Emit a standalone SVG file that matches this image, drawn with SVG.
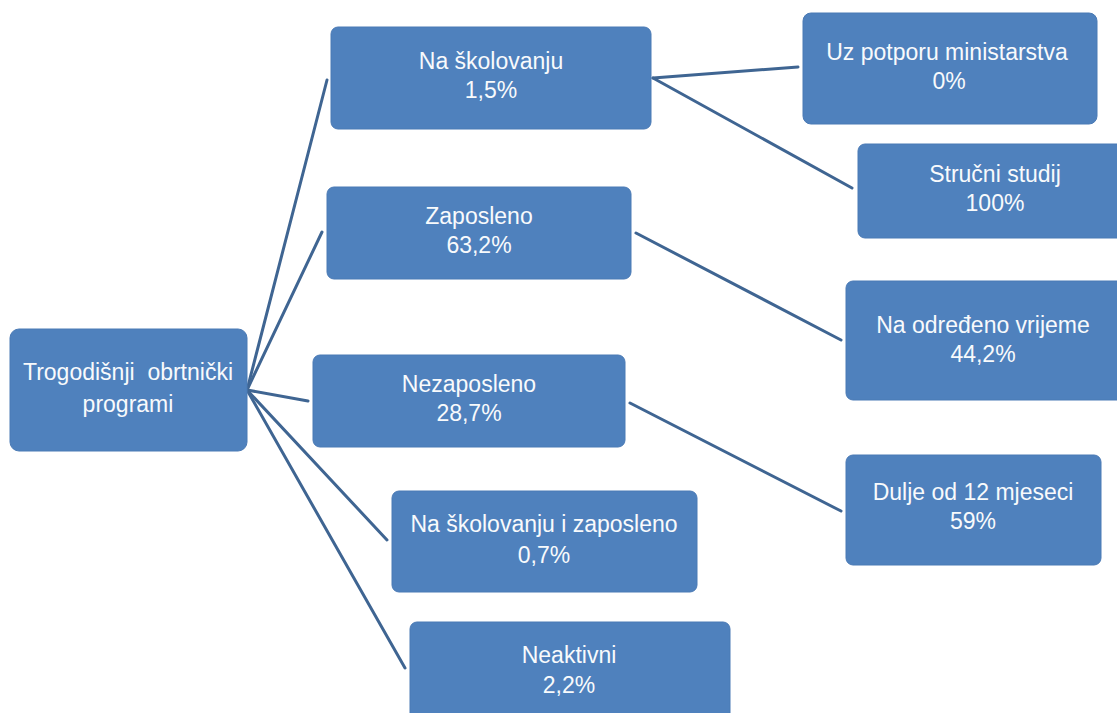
<svg xmlns="http://www.w3.org/2000/svg" width="1117" height="713" viewBox="0 0 1117 713">
<style>
.n{fill:#4f81bd;stroke:#4a7ab5;stroke-width:1}
.t{fill:#f8fafc;font-family:"Liberation Sans",Arial,sans-serif;font-size:23px;text-anchor:middle;white-space:pre}
.c{stroke:#3f6592;stroke-width:3;fill:none;stroke-linecap:round}
</style>
<rect width="1117" height="713" fill="#ffffff"/>
<g id="connectors">
<line class="c" x1="247" y1="390" x2="327" y2="80"/>
<line class="c" x1="247" y1="390" x2="322" y2="232"/>
<line class="c" x1="247" y1="390" x2="308" y2="401"/>
<line class="c" x1="247" y1="390" x2="387" y2="540"/>
<line class="c" x1="247" y1="390" x2="405" y2="668"/>
<line class="c" x1="653" y1="78" x2="798" y2="67"/>
<line class="c" x1="653" y1="78" x2="852" y2="188"/>
<line class="c" x1="636" y1="233" x2="841" y2="340"/>
<line class="c" x1="630" y1="403" x2="841" y2="511"/>
</g>
<g id="root">
<rect class="n" x="10" y="329" width="237" height="122" rx="9"/>
<text class="t" x="128" y="380" xml:space="preserve">Trogodišnji  obrtnički</text>
<text class="t" x="128" y="412">programi</text>
</g>
<g id="na-skolovanju">
<rect class="n" x="331" y="27" width="320" height="102" rx="7"/>
<text class="t" x="491" y="69">Na školovanju</text>
<text class="t" x="491" y="98">1,5%</text>
</g>
<g id="zaposleno">
<rect class="n" x="327" y="187" width="304" height="92" rx="7"/>
<text class="t" x="479" y="224">Zaposleno</text>
<text class="t" x="479" y="253">63,2%</text>
</g>
<g id="nezaposleno">
<rect class="n" x="313" y="355" width="312" height="92" rx="7"/>
<text class="t" x="469" y="392">Nezaposleno</text>
<text class="t" x="469" y="421">28,7%</text>
</g>
<g id="na-skolovanju-i-zaposleno">
<rect class="n" x="392" y="491" width="305" height="101" rx="7"/>
<text class="t" x="544" y="532">Na školovanju i zaposleno</text>
<text class="t" x="544" y="563">0,7%</text>
</g>
<g id="neaktivni">
<rect class="n" x="410" y="622" width="320" height="100" rx="7"/>
<text class="t" x="569" y="663">Neaktivni</text>
<text class="t" x="569" y="693">2,2%</text>
</g>
<g id="uz-potporu">
<rect class="n" x="803" y="13" width="294" height="111" rx="8"/>
<text class="t" x="947" y="60">Uz potporu ministarstva</text>
<text class="t" x="949" y="89">0%</text>
</g>
<g id="strucni-studij">
<rect class="n" x="858" y="144" width="270" height="94" rx="7"/>
<text class="t" x="995" y="182">Stručni studij</text>
<text class="t" x="995" y="211">100%</text>
</g>
<g id="na-odredeno">
<rect class="n" x="846" y="281" width="280" height="119" rx="7"/>
<text class="t" x="983" y="333">Na određeno vrijeme</text>
<text class="t" x="983" y="362">44,2%</text>
</g>
<g id="dulje">
<rect class="n" x="846" y="455" width="255" height="110" rx="7"/>
<text class="t" x="973" y="500">Dulje od 12 mjeseci</text>
<text class="t" x="973" y="529">59%</text>
</g>
</svg>
